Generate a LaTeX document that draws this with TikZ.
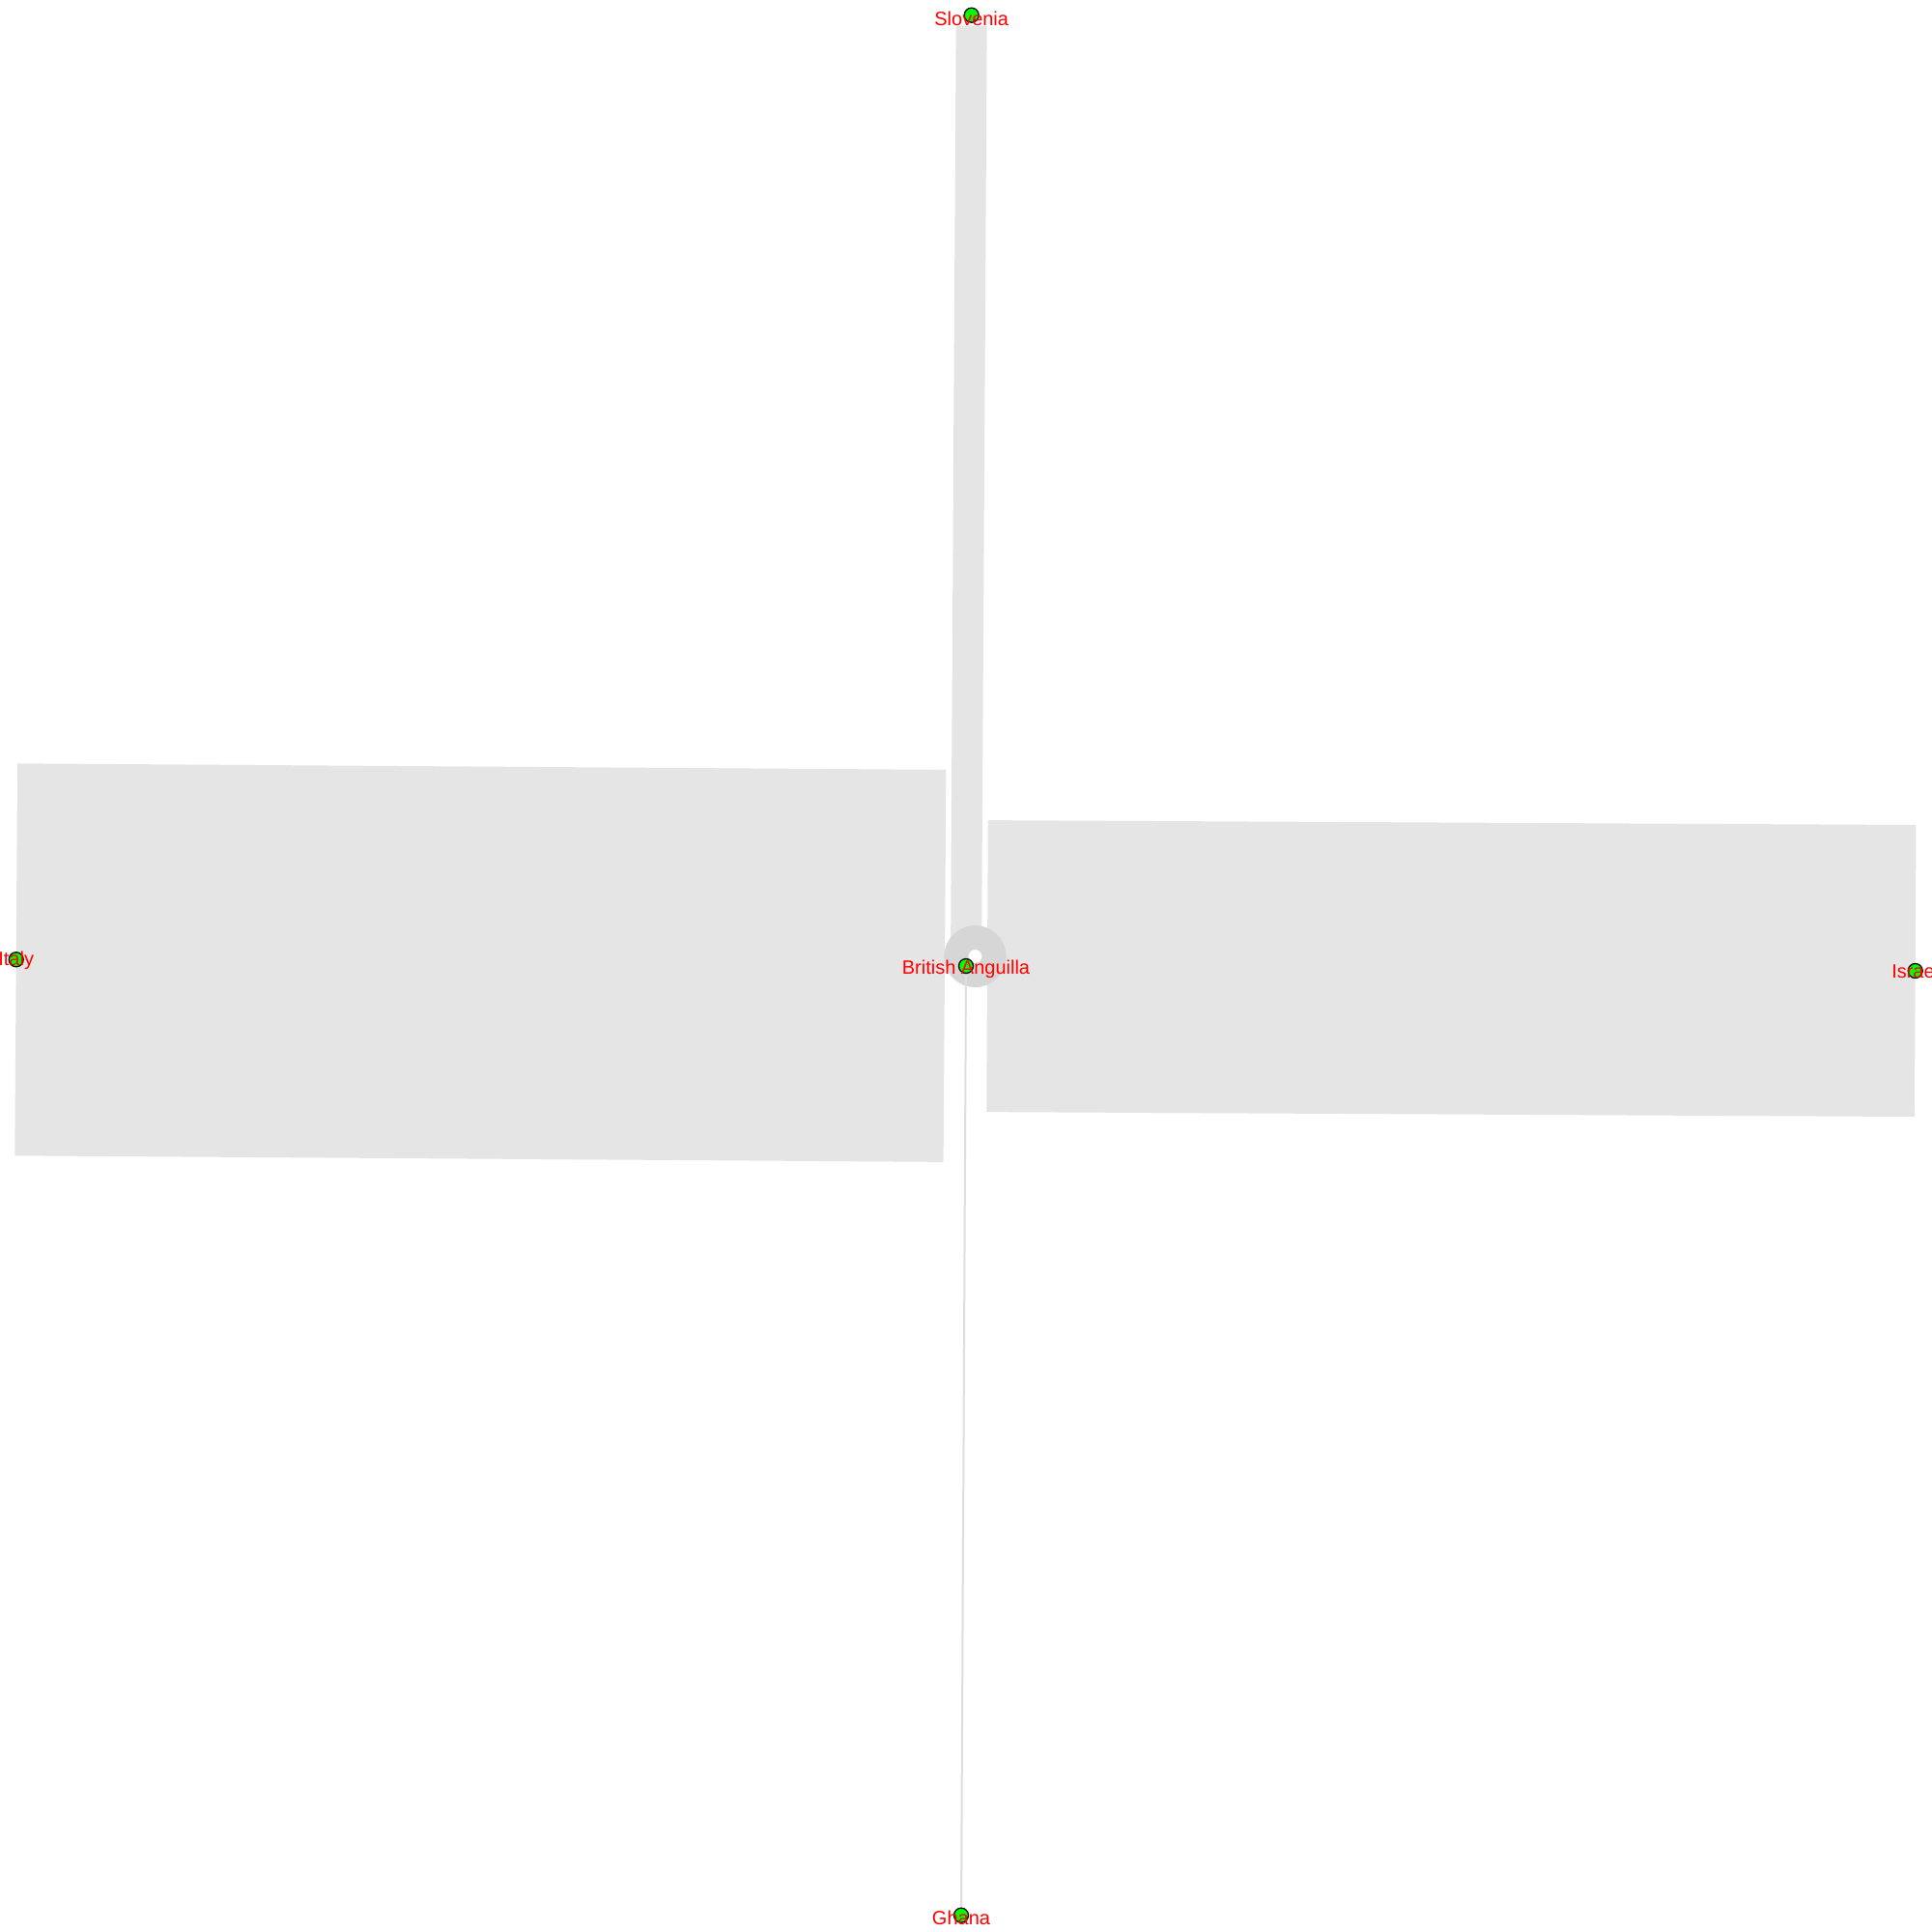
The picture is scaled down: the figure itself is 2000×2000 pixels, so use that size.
\documentclass[tikz,border=0pt]{standalone}
\usepackage{fontspec}
\setmainfont{Liberation Sans}
\definecolor{bandgray}{RGB}{229,229,229}
\definecolor{loopgray}{RGB}{214,214,214}
\definecolor{ghanaline}{RGB}{222,222,222}
\definecolor{nodegreen}{RGB}{0,255,0}
\definecolor{labelred}{RGB}{255,0,0}
\tikzset{
  country/.style={circle, draw=black, line width=1.3bp, fill=nodegreen, minimum size=15bp, inner sep=0pt},
  band/.style={draw=bandgray, line cap=butt},
  clabel/.style={text=labelred, anchor=base, inner sep=0pt, font=\fontsize{20bp}{24bp}\selectfont}
}
\begin{document}
\begin{tikzpicture}[x=1bp, y=-1bp]
\fill[white] (0,0) rectangle (2000,2000);
\useasboundingbox (0,0) rectangle (2000,2000);
% node positions
\coordinate (pslo) at (1005.7,15.7);
\coordinate (pang) at (1000,1000);
\coordinate (pgha) at (995,1982.7);
\coordinate (pita) at (16.7,993.3);
\coordinate (pisr) at (1982.7,1005);
% edges (bands)
\draw[band, line width=406bp, shorten >=22bp] (pita) -- (pang);
\draw[band, line width=302bp, shorten <=22bp] (pang) -- (pisr);
\draw[band, line width=32bp, shorten <=11bp, shorten >=22bp] (pslo) -- (pang);
% self loop
\draw[loopgray, line width=25bp] (1009.5,990) circle[radius=19.5bp];
% thin edge to Ghana
\draw[ghanaline, line width=2bp] (pang) -- (pgha);
% nodes
\node[country] (slovenia) at (pslo) {};
\node[country] (anguilla) at (pang) {};
\node[country] (ghana) at (pgha) {};
\node[country] (italy) at (pita) {};
\node[country] (israel) at (pisr) {};
% labels
\node[clabel] (lslo) at ([yshift=-10.5bp]slovenia.center) {Slovenia};
\node[clabel] (lang) at ([yshift=-8.3bp]anguilla.center) {British Anguilla};
\node[clabel] (lgha) at ([yshift=-9.5bp]ghana.center) {Ghana};
\node[clabel] (lita) at ([yshift=-6bp]italy.center) {Italy};
\node[clabel] (lisr) at ([yshift=-7.7bp]israel.center) {Israel};
\end{tikzpicture}
\end{document}
